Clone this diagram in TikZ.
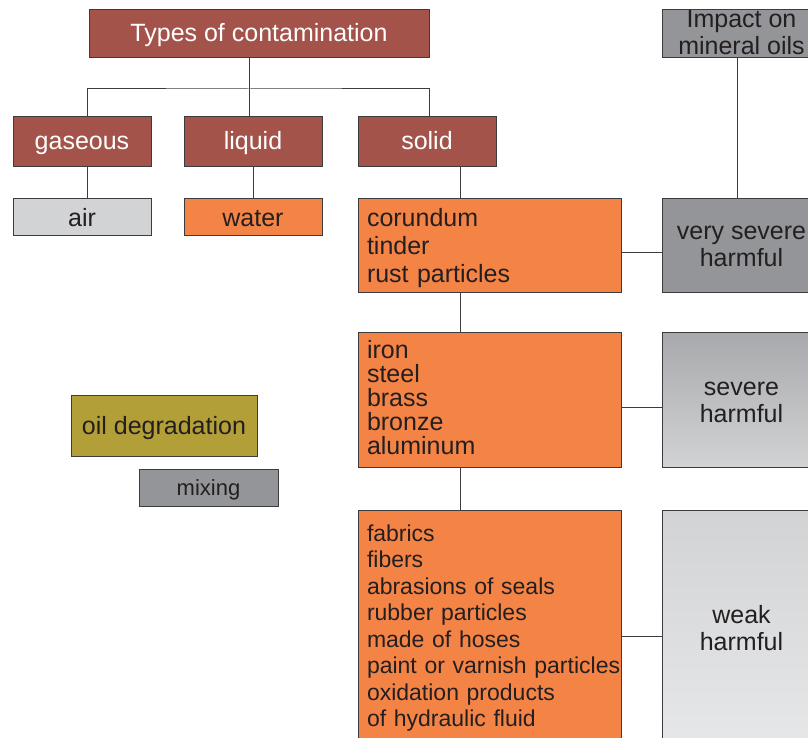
\documentclass[tikz,border=0pt]{standalone}
\usepackage{fontspec}
\setmainfont{Liberation Sans}
\usepackage{xcolor}
\usetikzlibrary{positioning}
\definecolor{contred}{HTML}{A4534A}
\definecolor{contorange}{HTML}{F48446}
\definecolor{contolive}{HTML}{B39F38}
\definecolor{contgray}{HTML}{939598}
\definecolor{contmid}{HTML}{A7A9AC}
\definecolor{contlight}{HTML}{D1D3D4}
\definecolor{contpale}{HTML}{E6E7E8}
\definecolor{contline}{HTML}{3C3C3E}
\definecolor{conttext}{HTML}{231F20}

\begin{document}
\begin{tikzpicture}[
    x=1pt, y=-1pt,
    every node/.style={font=\fontsize{25}{27}\selectfont, text=conttext},
    box/.style={
        rectangle,
        draw=contline,
        line width=0.9pt,
        inner sep=0pt,
        minimum width=138pt,
        minimum height=50pt,
        align=center
    },
    oneline/.style={text height=18pt, text depth=0pt},
    head/.style={box, oneline, fill=contred, text=white},
    item/.style={box, oneline, minimum height=37pt},
    list/.style={
        box,
        fill=contorange,
        minimum width=263pt,
        text width=245pt,
        inner xsep=9pt,
        align=left
    },
    impact/.style={box, minimum width=158pt},
    link/.style={draw=contline, line width=1pt}
]
\useasboundingbox (0,0) rectangle (808,738);
\clip (0,0) rectangle (808,738);

% Row 1: types
\node[head, minimum width=340pt, minimum height=48pt] (title) at (259,33) {Types of contamination};
\node[head] (gaseous) at (82,141) {gaseous};
\node[head] (liquid) at (253,141) {liquid};
\node[head] (solid) at (427,141) {solid};

% Row 2: gaseous and liquid
\node[item, fill=contlight, below=32pt of gaseous] (air) {air};
\node[item, fill=contorange, below=32pt of liquid] (water) {water};

% Solid column
\node[list, minimum height=94pt, font=\fontsize{25}{28}\selectfont] (corundum) at (489.5,245) {corundum\\tinder\\\smash{rust particles}};
\node[list, minimum height=135pt, below=40pt of corundum, font=\fontsize{25}{24}\selectfont] (iron) {iron\\steel\\brass\\bronze\\aluminum\vphantom{p}};
\node[list, minimum height=234pt, below=42pt of iron, font=\fontsize{23}{26.5}\selectfont] (fabrics) {fabrics\\fibers\\abrasions of seals\\rubber particles\\made of hoses\\\mbox{paint or varnish particles}\\oxidation products\\of hydraulic fluid};

% Impact column
\node[impact, fill=contgray, minimum height=48pt] (impact) at (741.5,33) {Impact on\\mineral oils};
\node[impact, fill=contgray, minimum height=94pt] (vsevere) at (741.5,245) {\vphantom{I}very severe\\harmful};
\node[impact, top color=contmid, bottom color=contlight, minimum height=135pt, below=40pt of vsevere] (severe) {\vphantom{I}severe\\harmful};
\node[impact, top color=contlight, bottom color=contpale, minimum height=234pt, below=42pt of severe] (weak) {weak\\harmful};

% Left: degradation
\node[box, oneline, fill=contolive, minimum width=186pt, minimum height=61pt] (oildeg) at (164,425.5) {oil degradation};
\node[item, fill=contgray, minimum width=139pt, text height=16pt, font=\fontsize{22}{24}\selectfont] (mixing) at (208.5,487.5) {mixing};

% Tree lines
\coordinate (hub) at (249,89);
\coordinate (spine) at (460,0);
\draw[link] (title.south -| hub) -- (liquid.north -| hub);
\draw[link] ([xshift=5pt]gaseous.north) |- (hub) -| ([xshift=2pt]solid.north);
\draw[link] ([xshift=5pt]gaseous.south) -- ([xshift=5pt]air.north);
\draw[link] (liquid) -- (water);
\draw[link] (solid.south -| spine) -- (corundum.north -| spine);
\draw[link] (corundum.south -| spine) -- (iron.north -| spine);
\draw[link] (iron.south -| spine) -- (fabrics.north -| spine);

% Impact lines
\draw[link] ([xshift=-4pt]impact.south) -- ([xshift=-4pt]vsevere.north);
\draw[link] ([yshift=-7pt]corundum.east) -- ([yshift=-7pt]vsevere.west);
\draw[link] ([yshift=-7pt]iron.east) -- ([yshift=-7pt]severe.west);
\draw[link] ([yshift=-9pt]fabrics.east) -- ([yshift=-9pt]weak.west);

\end{tikzpicture}
\end{document}
